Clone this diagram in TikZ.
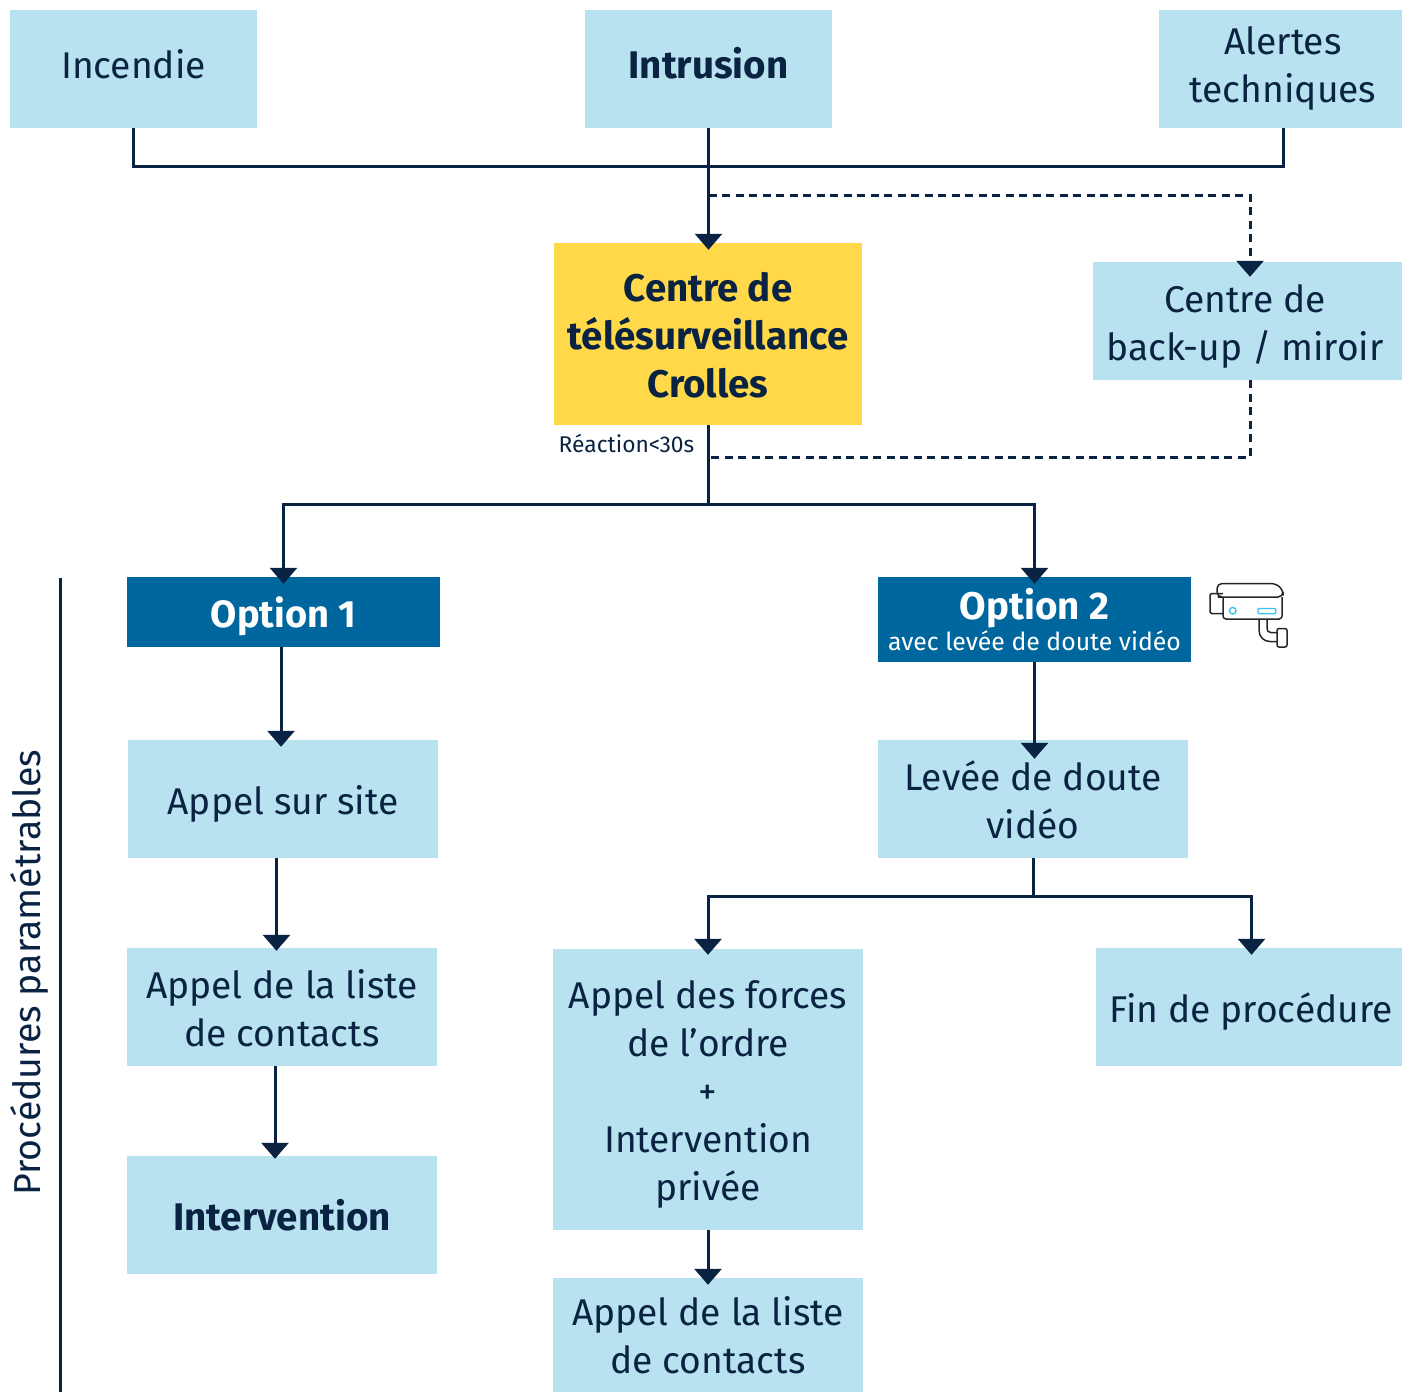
\documentclass[tikz,border=0pt]{standalone}
\usepackage{fontspec}
\setmainfont{Fira Sans}
\usetikzlibrary{arrows.meta}
\definecolor{navy}{HTML}{0A2342}
\definecolor{lightb}{HTML}{B8E2EF}
\definecolor{yel}{HTML}{FFD94A}
\definecolor{blu}{HTML}{00669E}
\definecolor{cyanc}{HTML}{35C5F0}
% text block moved by (dx right, dy down) inside its box, the box itself staying in place
\newcommand\tx[3]{\vbox{\vskip\dimexpr 2\dimexpr#2pt\relax\relax\hbox{\hskip\dimexpr 2\dimexpr#1pt\relax\relax\begin{tabular}{@{}c@{}}#3\end{tabular}}}}
\tikzset{
 x=1pt,y=-1pt,
 box/.style={fill=lightb,text=navy,inner sep=0pt,font=\fontsize{37.2}{48}\selectfont},
 bbox/.style={box,font=\fontsize{38.5}{48}\selectfont\bfseries},
 conn/.style={draw=navy,line width=3pt},
 arr/.style={conn,-{Triangle[width=27pt,length=16pt]}},
 dashline/.style={draw=navy,line width=3pt,dash pattern=on 8pt off 5.5pt},
 darr/.style={dashline,-{Triangle[width=27pt,length=16pt]}},
 cam/.style={draw=black!85,line width=1.5pt,line join=round},
}
\begin{document}
\begin{tikzpicture}
\useasboundingbox (0,0) rectangle (1402,1392);
\node[box,minimum width=247pt,minimum height=118pt] (inc) at (133.5,69) {\tx{0}{0}{Incendie}};
\node[bbox,minimum width=247pt,minimum height=118pt] (intr) at (708.5,69) {\tx{0}{0}{Intrusion}};
\node[box,minimum width=243pt,minimum height=118pt] (alert) at (1280.5,69) {\tx{2.5}{0}{Alertes\\techniques}};
\node[bbox,fill=yel,minimum width=308pt,minimum height=182pt] (ctr) at (708,334) {\tx{0}{5.5}{Centre de\\télésurveillance\\Crolles}};
\node[box,minimum width=309pt,minimum height=118pt] (back) at (1247.5,321) {\tx{-2.5}{5.5}{Centre de\\back-up / miroir}};
\node[text=navy,inner sep=0pt,font=\fontsize{22.8}{26}\selectfont] (rea) at (626.5,443) {Réaction<30s};
\coordinate (j1) at (708.5,166);
\coordinate (j2) at (708,504);
\coordinate (jd1) at (708.5,195);
\coordinate (jd2) at (708,457);
\node[fill=blu,text=white,inner sep=0pt,minimum width=313pt,minimum height=70pt,font=\fontsize{38}{48}\selectfont\bfseries] (op1) at (283.5,612) {\tx{0}{5.5}{Option 1}};
\node[fill=blu,text=white,inner sep=0pt,minimum width=313pt,minimum height=85pt,align=center] (op2) at (1034.5,619.5) {\fontsize{38.5}{40}\selectfont\bfseries Option 2\\[2pt]\fontsize{24.8}{30}\selectfont avec levée de doute vidéo};
\node[box,minimum width=310pt,minimum height=118pt] (site) at (283,799) {\tx{0}{5.5}{Appel sur site}};
\node[box,minimum width=310pt,minimum height=118pt] (liste1) at (282,1007) {\tx{0}{5.5}{Appel de la liste\\de contacts}};
\node[bbox,minimum width=310pt,minimum height=118pt] (interv) at (282,1215) {\tx{0}{5.5}{Intervention}};
\node[box,minimum width=310pt,minimum height=118pt] (lev) at (1033,799) {\tx{0}{5.5}{Levée de doute\\vidéo}};
\node[box,minimum width=310pt,minimum height=281pt] (force) at (708,1089.5) {\tx{0}{5}{Appel des forces\\de l’ordre\\+\\Intervention\\privée}};
\node[box,minimum width=306pt,minimum height=118pt] (fin) at (1249,1007) {\tx{2}{5.5}{Fin de procédure}};
\node[box,minimum width=310pt,minimum height=114pt] (liste2) at (708,1335) {\tx{0}{4.5}{Appel de la liste\\de contacts}};
\node[text=navy,inner sep=0pt,rotate=90,font=\fontsize{37.5}{44}\selectfont] (proc) at (29,972.5) {Procédures paramétrables};
\coordinate (pa) at (60,578);
\coordinate (pb) at (60,1392);
\draw[conn] (pa) -- (pb);
% top merge
\draw[conn] (inc.south) |- (j1);
\draw[conn] ([xshift=2.5pt]alert.south) |- (j1);
\draw[arr] (intr.south) -- ([xshift=0.5pt,yshift=-7pt]ctr.north);
% dashed
\draw[darr] (jd1) -| ([xshift=2.5pt,yshift=-15pt]back.north);
\draw[dashline] ([xshift=2.5pt]back.south) |- (jd2);
% options
\draw[conn] (ctr.south) -- (j2);
\draw[arr] (j2) -| ([yshift=-7pt]op1.north);
\draw[arr] (j2) -| ([yshift=-7pt]op2.north);
\draw[arr] ([xshift=-2.5pt]op1.south) -- ([xshift=-2pt,yshift=-7pt]site.north);
\draw[arr] ([xshift=-6.5pt]site.south) -- ([xshift=-5.5pt,yshift=-3pt]liste1.north);
\draw[arr] ([xshift=-7pt]liste1.south) -- ([xshift=-7pt,yshift=-3pt]interv.north);
\draw[arr] (op2.south) -- ([xshift=1.5pt,yshift=-19pt]lev.north);
\coordinate (j3) at (1033,896);
\draw[conn] (lev.south) -- (j3);
\draw[arr] (j3) -| ([yshift=-6pt]force.north);
\draw[arr] (j3) -| ([xshift=2.5pt,yshift=-7pt]fin.north);
\draw[arr] (force.south) -- ([yshift=-7pt]liste2.north);
% camera
\draw[cam,rounded corners=3pt] (1223,597) -- (1223,619) -- (1282,619) -- (1282,597);
\draw[cam,rounded corners=5pt] (1223,597) -- (1217,597) -- (1217,583.5) -- (1276,583.5) -- (1283,590) -- (1283,597) -- cycle;
\draw[cam,rounded corners=1.5pt] (1223,593.5) -- (1210,593.5) -- (1210,613.5) -- (1223,613.5);
\draw[cam,rounded corners=2pt] (1277,628.5) rectangle (1287,647);
\draw[cam] (1259,619) -- (1259,630) .. controls (1259,637) and (1264,641.5) .. (1270,641.5) -- (1277,641.5);
\draw[cam] (1267,619) -- (1267,628) .. controls (1267,631) and (1268,632.5) .. (1271,632.5) -- (1277,632.5);
\draw[draw=cyanc,line width=1.4pt] (1232.7,610.7) circle (3.3pt);
\draw[draw=cyanc,line width=1.4pt,rounded corners=1pt] (1258,608.5) rectangle (1275.7,613.7);
\end{tikzpicture}
\end{document}
